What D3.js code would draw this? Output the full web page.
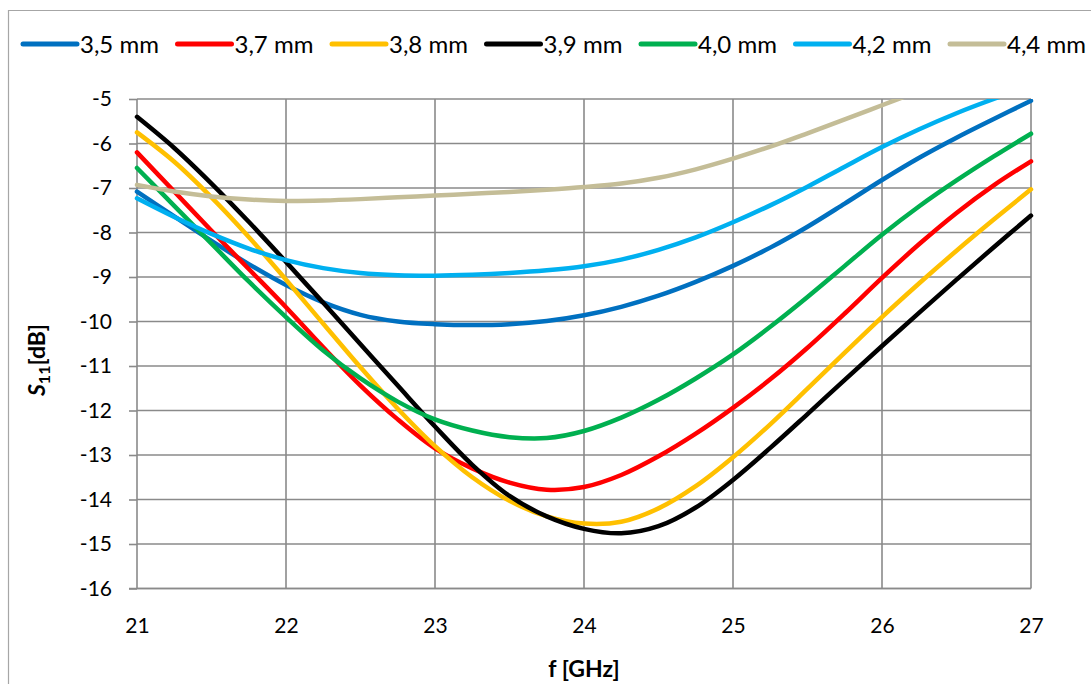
<!DOCTYPE html>
<html>
<head>
<meta charset="utf-8">
<script src="https://cdn.jsdelivr.net/npm/d3@7"></script>
<style>
  html, body { margin: 0; padding: 0; background: #fff; }
  svg { display: block; }
  text { font-family: "Lato", "Open Sans", "DejaVu Sans", sans-serif; fill: #000; }
</style>
</head>
<body>
<svg id="chart" width="1091" height="684"></svg>
<script>
// ---------- data ----------
const freqs = [21, 21.25, 21.5, 21.75, 22, 22.25, 22.5, 22.75, 23, 23.25, 23.5, 23.75, 24,
               24.25, 24.5, 24.75, 25, 25.25, 25.5, 25.75, 26, 26.25, 26.5, 26.75, 27];

const s35 = [-7.08, -7.64, -8.19, -8.71, -9.18, -9.57, -9.85, -10.0, -10.06, -10.08, -10.06, -9.99, -9.86,
             -9.67, -9.42, -9.11, -8.75, -8.34, -7.87, -7.35, -6.82, -6.32, -5.87, -5.45, -5.04];
const s37 = [-6.2, -7.08, -7.96, -8.82, -9.68, -10.58, -11.44, -12.2, -12.85, -13.3, -13.62, -13.78, -13.72,
             -13.45, -13.03, -12.52, -11.94, -11.3, -10.59, -9.82, -9.02, -8.26, -7.56, -6.94, -6.4];
const s38 = [-5.75, -6.41, -7.21, -8.1, -9.06, -10.05, -11.03, -11.96, -12.8, -13.5, -14.03, -14.38, -14.54,
             -14.5, -14.2, -13.7, -13.05, -12.31, -11.51, -10.7, -9.9, -9.14, -8.41, -7.71, -7.03];
const s39 = [-5.4, -6.1, -6.9, -7.76, -8.66, -9.58, -10.51, -11.44, -12.36, -13.22, -13.92, -14.38, -14.66,
             -14.76, -14.6, -14.18, -13.56, -12.84, -12.08, -11.31, -10.55, -9.8, -9.06, -8.33, -7.62];
const s40 = [-6.55, -7.4, -8.25, -9.1, -9.9, -10.65, -11.28, -11.8, -12.2, -12.45, -12.6, -12.62, -12.46,
             -12.16, -11.76, -11.28, -10.74, -10.12, -9.45, -8.75, -8.05, -7.41, -6.83, -6.29, -5.78];
const s42 = [-7.23, -7.65, -8.03, -8.36, -8.62, -8.8, -8.91, -8.96, -8.97, -8.95, -8.91, -8.85, -8.76,
             -8.61, -8.39, -8.11, -7.77, -7.39, -6.97, -6.52, -6.08, -5.68, -5.32, -5.0, -4.71];
const s44 = [-6.93, -7.08, -7.19, -7.26, -7.29, -7.28, -7.25, -7.21, -7.17, -7.13, -7.09, -7.04, -6.98,
             -6.9, -6.77, -6.58, -6.34, -6.07, -5.77, -5.46, -5.14, -4.82, -4.5, -4.2, -3.9];

const seriesNames = ["3,5 mm", "3,7 mm", "3,8 mm", "3,9 mm", "4,0 mm", "4,2 mm", "4,4 mm"];
const seriesValues = [s35, s37, s38, s39, s40, s42, s44];
const seriesColors = ["#0070C0", "#FF0000", "#FFC000", "#000000", "#00B050", "#00B0F0", "#C4BD97"];

const xTicks = [21, 22, 23, 24, 25, 26, 27];
const yTicks = [-5, -6, -7, -8, -9, -10, -11, -12, -13, -14, -15, -16];

// ---------- layout ----------
const svg = d3.select("#chart");
const L = 137, R = 1031, T = 99, B = 588.5;
const x = d3.scaleLinear().domain([21, 27]).range([L, R]);
const y = d3.scaleLinear().domain([-5, -16]).range([T, B]);
const gridColor = "#8a8a8a";

// outer chart border (cropped on right/bottom)
svg.append("path")
  .attr("d", `M8.5,684 L8.5,10.5 L1091,10.5`)
  .attr("fill", "none").attr("stroke", "#a6a6a6").attr("stroke-width", 1.2);

// gridlines
const grid = svg.append("g");
grid.selectAll("line.h").data(yTicks).join("line")
  .attr("x1", L).attr("x2", R).attr("y1", d => y(d)).attr("y2", d => y(d))
  .attr("stroke", gridColor).attr("stroke-width", 1.6);
grid.selectAll("line.v").data(xTicks).join("line")
  .attr("y1", T).attr("y2", B).attr("x1", d => x(d)).attr("x2", d => x(d))
  .attr("stroke", gridColor).attr("stroke-width", 1.6);

// y axis
const yAxis = svg.append("g").attr("transform", `translate(${L},0)`)
  .call(d3.axisLeft(y).tickValues(yTicks).tickSize(8).tickPadding(17).tickFormat(d => String(d)));
yAxis.select(".domain").remove();
yAxis.selectAll(".tick line").attr("stroke", gridColor).attr("stroke-width", 1.6);
yAxis.selectAll(".tick text").attr("font-size", 21).attr("font-family", "Lato, sans-serif").attr("fill", "#000");

// x axis
const xAxis = svg.append("g").attr("transform", `translate(0,${B})`)
  .call(d3.axisBottom(x).tickValues(xTicks).tickSize(0).tickPadding(0).tickFormat(d => String(d)));
xAxis.select(".domain").attr("d", `M${L - 8},0H${R}`).attr("stroke", gridColor).attr("stroke-width", 1.6);
xAxis.selectAll(".tick text").attr("font-size", 21).attr("font-family", "Lato, sans-serif")
  .attr("fill", "#000").attr("dy", 0).attr("y", 44);

// clip for curves
svg.append("clipPath").attr("id", "plotclip").append("rect")
  .attr("x", L - 3).attr("y", T).attr("width", R - L + 6).attr("height", B - T + 3);

const line = d3.line().x(d => x(d[0])).y(d => y(d[1])).curve(d3.curveCatmullRom.alpha(0.5));
const curves = svg.append("g").attr("clip-path", "url(#plotclip)");
seriesValues.forEach((vals, i) => {
  curves.append("path")
    .datum(freqs.map((f, j) => [f, vals[j]]))
    .attr("d", line)
    .attr("fill", "none")
    .attr("stroke", seriesColors[i])
    .attr("stroke-width", 4.5)
    .attr("stroke-linejoin", "round")
    .attr("stroke-linecap", "round");
});

// legend
const legend = svg.append("g");
const legX0 = 23, legStep = 154.5, legY = 44;
seriesNames.forEach((name, i) => {
  const gx = legX0 + i * legStep;
  legend.append("line")
    .attr("x1", gx).attr("x2", gx + 54).attr("y1", legY).attr("y2", legY)
    .attr("stroke", seriesColors[i]).attr("stroke-width", 5).attr("stroke-linecap", "round");
  legend.append("text")
    .attr("x", gx + 57).attr("y", legY + 8.5)
    .attr("font-size", 24).text(name);
});

// axis titles
svg.append("text")
  .attr("x", (L + R) / 2).attr("y", 677)
  .attr("text-anchor", "middle").attr("font-size", 23).attr("font-weight", "bold")
  .text("f [GHz]");

const yt = svg.append("text")
  .attr("transform", "translate(45,360) rotate(-90)")
  .attr("text-anchor", "middle").attr("font-size", 23).attr("font-weight", "bold");
yt.append("tspan").attr("font-style", "italic").text("S");
yt.append("tspan").attr("font-size", 16).attr("dy", 5).text("11");
yt.append("tspan").attr("dy", -5).text("[dB]");
</script>
</body>
</html>
